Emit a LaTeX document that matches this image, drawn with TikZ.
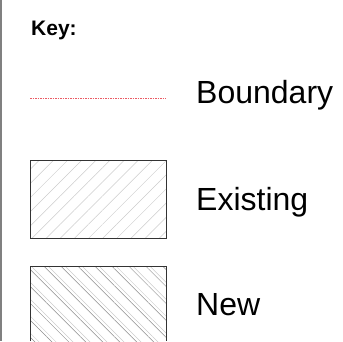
\documentclass[tikz,border=0pt]{standalone}
\usepackage{fontspec}
\setmainfont{Liberation Sans}
\usetikzlibrary{patterns.meta}
\tikzset{
	label text/.style={anchor=base west, inner sep=0pt, font=\fontsize{32}{32}\selectfont},
	swatch/.style={draw=black!80, line width=0.8pt},
	boundary line/.style={draw={rgb,255:red,235;green,90;blue,100}, line width=0.7pt, dash pattern=on 1.5pt off 1pt}
}
\definecolor{hatchlight}{gray}{0.8}
\definecolor{hatchdark}{gray}{0.55}

\begin{document}
\begin{tikzpicture}[x=1pt, y=-1pt]
\useasboundingbox (0,0) rectangle (343,341);
\draw[gray, line width=2pt] (1,0) -- (1,341);

\node[anchor=base west, inner sep=0pt, font=\fontsize{21}{21}\selectfont\bfseries] (key) at (31,35) {Key:};

% boundary
\coordinate (bstart) at (30,98.5);
\coordinate (bend) at (166,98.5);
\draw[boundary line] (bstart) -- (bend);
\node[label text] (boundary) at (196,103) {Boundary};

% existing
\path[pattern={Lines[angle=45, distance=10pt, line width=0.5pt]}, pattern color=hatchlight] (30,160) rectangle (166,238);
\draw[swatch] (30,160) rectangle (166,238);
\node[label text] (existing) at (196,210) {Existing};

% new
\path[pattern={Lines[angle=-45, distance=12pt, line width=0.5pt]}, pattern color=hatchdark] (30,266) rectangle (166,341);
\path[pattern={Lines[angle=-45, distance=12pt, xshift=4.2pt, line width=0.5pt]}, pattern color=hatchlight] (30,266) rectangle (166,341);
\draw[swatch] (30,341) -- (30,266) -- (166,266) -- (166,341);
\node[label text] (new) at (196,315) {New};
\end{tikzpicture}
\end{document}
